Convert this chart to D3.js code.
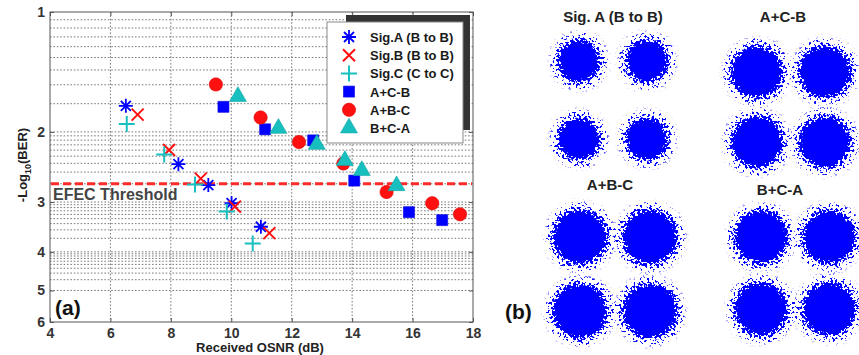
<!DOCTYPE html>
<html>
<head>
<meta charset="utf-8">
<script src="https://cdn.jsdelivr.net/npm/d3@7"></script>
<style>
  body { margin: 0; background: #fff; }
  svg { display: block; }
</style>
</head>
<body>
<div id="chart"></div>
<script>
// ---- data ----
const osnrTicks = [4, 6, 8, 10, 12, 14, 16, 18];
const berTicks = [1, 2, 3, 4, 5, 6];
const fecThreshold = 2.7; // -log10(2e-3)

// [OSNR dB, -log10(BER)]
const sigA = [[6.51, 1.72], [8.25, 2.41], [9.24, 2.72], [10.01, 3.02], [10.98, 3.46]];
const sigB = [[6.90, 1.81], [7.94, 2.22], [8.99, 2.62], [10.12, 3.08], [11.26, 3.59]];
const sigC = [[6.54, 1.91], [7.78, 2.28], [8.80, 2.71], [9.85, 3.17], [10.71, 3.81]];
const acb = [[9.74, 1.73], [11.12, 1.97], [12.71, 2.10], [14.07, 2.65], [15.88, 3.18], [16.98, 3.33]];
const abc = [[9.49, 1.52], [10.97, 1.84], [12.24, 2.12], [13.71, 2.40], [15.14, 2.83], [16.65, 3.02], [17.57, 3.22]];
const bca = [[10.22, 1.63], [11.56, 1.96], [12.83, 2.15], [13.76, 2.36], [14.32, 2.50], [15.47, 2.73]];

const seriesNames = ['Sig.A (B to B)', 'Sig.B (B to B)', 'Sig.C (C to C)', 'A+C-B', 'A+B-C', 'B+C-A'];
const seriesData = [sigA, sigB, sigC, acb, abc, bca];

// constellations (b)
const constTitles = ['Sig. A (B to B)', 'A+C-B', 'A+B-C', 'B+C-A'];
const qpskI = [-1, 1, -1, 1];
const qpskQ = [1, 1, -1, -1];
const cloudSpread = [0.57, 0.71, 0.73, 0.73]; // cloud core radius relative to symbol half-distance

// ---- styles ----
const BLUE = '#0000ff', RED = '#ff1010', CYAN = '#17bfbf';
const seriesStyle = [
  { shape: 'asterisk', color: BLUE },
  { shape: 'x', color: RED },
  { shape: 'plus', color: CYAN },
  { shape: 'square', color: BLUE },
  { shape: 'circle', color: RED },
  { shape: 'triangle', color: CYAN }
];

const W = 859, H = 355;
const font = 'Arial, "Liberation Sans", sans-serif';

const svg = d3.select('#chart').append('svg')
  .attr('width', W)
  .attr('height', H)
  .style('font-family', font);

svg.append('rect').attr('width', W).attr('height', H).attr('fill', '#fff');

// ---------- (a) BER plot ----------
const x = d3.scaleLinear().domain([4, 18]).range([50, 473]);
const y = d3.scaleLog().domain([1, 6]).range([12, 322]);

const plot = svg.append('g');

// minor grid: BER = k * 10^-n
const minorGrid = [];
d3.range(2, 6).forEach(n => {
  d3.range(2, 10).forEach(k => minorGrid.push(n - Math.log10(k)));
});

plot.append('g')
  .selectAll('line')
  .data(minorGrid.concat(berTicks.slice(1, 5)))
  .enter()
  .append('line')
  .attr('x1', x(4)).attr('x2', x(18))
  .attr('y1', d => y(d)).attr('y2', d => y(d))
  .attr('stroke', '#7a7a7a')
  .attr('stroke-width', 1)
  .attr('stroke-dasharray', '1.6,1.8');

plot.append('g')
  .selectAll('line')
  .data(osnrTicks.slice(1, -1))
  .enter()
  .append('line')
  .attr('x1', d => x(d)).attr('x2', d => x(d))
  .attr('y1', y(1)).attr('y2', y(6))
  .attr('stroke', '#7a7a7a')
  .attr('stroke-width', 1)
  .attr('stroke-dasharray', '1.6,1.8');

// axes
const tickStyle = g => {
  g.select('.domain').remove();
  g.selectAll('line').attr('stroke', '#555');
  g.selectAll('text')
    .style('font-family', font)
    .style('font-size', '14px')
    .style('font-weight', 'bold')
    .attr('fill', '#333');
};

plot.append('g')
  .attr('transform', `translate(${x(4)},0)`)
  .call(d3.axisLeft(y).tickValues(berTicks).tickFormat(d3.format('d'))
    .tickSizeInner(-4).tickSizeOuter(0).tickPadding(5))
  .call(tickStyle);

plot.append('g')
  .attr('transform', `translate(${x(18)},0)`)
  .call(d3.axisRight(y).tickValues(berTicks).tickFormat('')
    .tickSizeInner(-4).tickSizeOuter(0))
  .call(tickStyle);

plot.append('g')
  .attr('transform', `translate(0,${y(6)})`)
  .call(d3.axisBottom(x).tickValues(osnrTicks).tickFormat(d3.format('d'))
    .tickSizeInner(-4).tickSizeOuter(0).tickPadding(6))
  .call(tickStyle);

plot.append('g')
  .attr('transform', `translate(0,${y(1)})`)
  .call(d3.axisTop(x).tickValues(osnrTicks).tickFormat('')
    .tickSizeInner(-4).tickSizeOuter(0))
  .call(tickStyle);

plot.append('rect')
  .attr('x', x(4)).attr('y', y(1))
  .attr('width', x(18) - x(4)).attr('height', y(6) - y(1))
  .attr('fill', 'none')
  .attr('stroke', '#555')
  .attr('stroke-width', 1);

// FEC threshold
plot.append('line')
  .attr('x1', x(4) + 1).attr('x2', x(18) - 1)
  .attr('y1', y(fecThreshold)).attr('y2', y(fecThreshold))
  .attr('stroke', '#ff2a2a')
  .attr('stroke-width', 3)
  .attr('stroke-dasharray', '8,4');

plot.append('text')
  .attr('x', 53)
  .attr('y', 200)
  .attr('fill', '#444')
  .style('font-size', '16px')
  .style('font-weight', 'bold')
  .text('EFEC Threshold');

// markers
function drawMarker(g, shape, color) {
  if (shape === 'asterisk') {
    const a = 7, b = 5;
    g.append('path')
      .attr('d', `M${-a},0L${a},0M0,${-a}L0,${a}M${-b},${-b}L${b},${b}M${-b},${b}L${b},${-b}`)
      .attr('stroke', color).attr('stroke-width', 1.8).attr('fill', 'none');
  } else if (shape === 'x') {
    const a = 6;
    g.append('path')
      .attr('d', `M${-a},${-a}L${a},${a}M${-a},${a}L${a},${-a}`)
      .attr('stroke', color).attr('stroke-width', 2).attr('fill', 'none');
  } else if (shape === 'plus') {
    const a = 8;
    g.append('path')
      .attr('d', `M${-a},0L${a},0M0,${-a}L0,${a}`)
      .attr('stroke', color).attr('stroke-width', 2).attr('fill', 'none');
  } else {
    const sym = { square: d3.symbolSquare, circle: d3.symbolCircle, triangle: d3.symbolTriangle }[shape];
    const size = { square: 121, circle: 140, triangle: 125 }[shape];
    g.append('path')
      .attr('d', d3.symbol().type(sym).size(size)())
      .attr('fill', color)
      .attr('stroke', d3.color(color).darker(0.4))
      .attr('stroke-width', 0.6);
  }
}

// filled markers first, line markers on top (as in the figure)
[3, 4, 5, 0, 1, 2].forEach(i => {
  const st = seriesStyle[i];
  plot.append('g')
    .selectAll('g')
    .data(seriesData[i])
    .enter()
    .append('g')
    .attr('transform', d => `translate(${x(d[0])},${y(d[1])})`)
    .each(function () { drawMarker(d3.select(this), st.shape, st.color); });
});

// legend
const legend = plot.append('g');
legend.append('rect')
  .attr('x', 346).attr('y', 15).attr('width', 124).attr('height', 115)
  .attr('fill', '#333');
legend.append('rect')
  .attr('x', 327).attr('y', 22).attr('width', 136).attr('height', 121)
  .attr('fill', '#fff').attr('stroke', '#8a8a8a').attr('stroke-width', 1);

seriesNames.forEach((name, i) => {
  const row = legend.append('g').attr('transform', `translate(349,${37 + i * 18.2})`);
  drawMarker(row, seriesStyle[i].shape, seriesStyle[i].color);
  row.append('text')
    .attr('x', 21)
    .attr('y', 5)
    .attr('fill', '#1a1a1a')
    .style('font-size', '13px')
    .style('font-weight', 'bold')
    .text(name);
});

// axis titles
svg.append('text')
  .attr('x', 260)
  .attr('y', 352)
  .attr('text-anchor', 'middle')
  .attr('fill', '#222')
  .style('font-size', '13px')
  .style('font-weight', 'bold')
  .text('Received OSNR (dB)');

const yl = svg.append('text')
  .attr('transform', 'translate(27,165) rotate(-90)')
  .attr('text-anchor', 'middle')
  .attr('fill', '#222')
  .style('font-size', '13px')
  .style('font-weight', 'bold');
yl.append('tspan').text('-Log');
yl.append('tspan').attr('dy', 4).style('font-size', '9px').text('10');
yl.append('tspan').attr('dy', -4).text('(BER)');

svg.append('text')
  .attr('x', 55).attr('y', 315)
  .attr('fill', '#111')
  .style('font-size', '21px')
  .style('font-weight', 'bold')
  .text('(a)');

// ---------- (b) constellations ----------
// clouds: solid discs, softened and broken up into speckle at the edge
const defs = svg.append('defs');
const filt = defs.append('filter')
  .attr('id', 'speckle')
  .attr('filterUnits', 'userSpaceOnUse')
  .attr('x', 500).attr('y', 0).attr('width', 359).attr('height', 355)
  .attr('color-interpolation-filters', 'sRGB');
filt.append('feGaussianBlur').attr('in', 'SourceAlpha').attr('stdDeviation', 6).attr('result', 'blur');
filt.append('feTurbulence')
  .attr('type', 'fractalNoise').attr('baseFrequency', 0.42)
  .attr('numOctaves', 2).attr('seed', 7).attr('result', 'noise');
filt.append('feColorMatrix').attr('in', 'noise').attr('type', 'matrix')
  .attr('values', '0 0 0 0 0  0 0 0 0 0  0 0 0 0 0  3 0 0 0 -1')
  .attr('result', 'noiseA');
filt.append('feComposite')
  .attr('in', 'blur').attr('in2', 'noiseA').attr('operator', 'arithmetic')
  .attr('k1', 0).attr('k2', 1.9).attr('k3', -1).attr('k4', 0)
  .attr('result', 'diff');
const ct = filt.append('feComponentTransfer').attr('in', 'diff').attr('result', 'mask');
ct.append('feFuncA').attr('type', 'linear').attr('slope', 10).attr('intercept', 0);
filt.append('feFlood').attr('flood-color', BLUE).attr('result', 'fill');
filt.append('feComposite').attr('in', 'fill').attr('in2', 'mask').attr('operator', 'in');

const panels = [
  { cx: 613, cy: 100, dx: 34, dy: 39, tx: 613, ty: 22 },
  { cx: 791, cy: 107, dx: 34, dy: 35, tx: 783, ty: 22 },
  { cx: 615, cy: 274, dx: 35, dy: 37, tx: 610, ty: 190 },
  { cx: 795, cy: 273, dx: 34, dy: 36, tx: 780, ty: 195 }
];

const clouds = svg.append('g').attr('filter', 'url(#speckle)');

constTitles.forEach((title, p) => {
  const L = panels[p];
  const sx = d3.scaleLinear().domain([-1, 1]).range([L.cx - L.dx, L.cx + L.dx]);
  const sy = d3.scaleLinear().domain([-1, 1]).range([L.cy + L.dy, L.cy - L.dy]);
  clouds.append('g')
    .selectAll('circle')
    .data(qpskI.map((v, i) => [v, qpskQ[i]]))
    .enter()
    .append('circle')
    .attr('cx', d => sx(d[0]))
    .attr('cy', d => sy(d[1]))
    .attr('r', cloudSpread[p] * L.dx)
    .attr('fill', BLUE);
});

constTitles.forEach((title, p) => {
  const L = panels[p];
  svg.append('text')
    .attr('x', L.tx).attr('y', L.ty)
    .attr('text-anchor', 'middle')
    .attr('fill', '#222')
    .style('font-size', '15px')
    .style('font-weight', 'bold')
    .text(title);
});

svg.append('text')
  .attr('x', 505).attr('y', 319)
  .attr('fill', '#111')
  .style('font-size', '21px')
  .style('font-weight', 'bold')
  .text('(b)');
</script>
</body>
</html>
